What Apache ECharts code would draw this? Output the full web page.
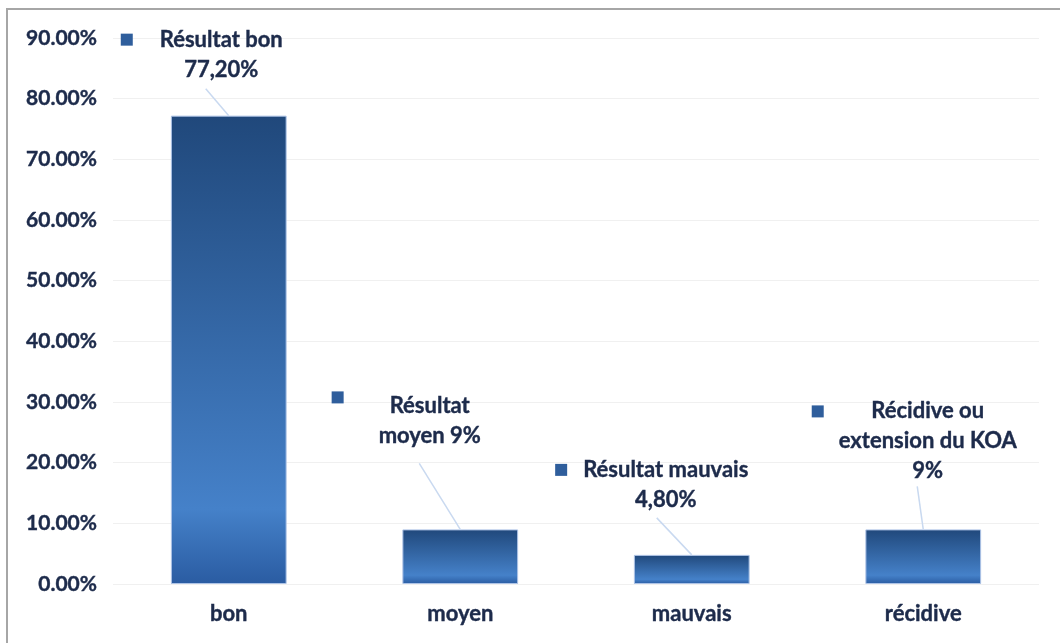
<!DOCTYPE html>
<html>
<head>
<meta charset="utf-8">
<script src="https://cdn.jsdelivr.net/npm/echarts@6/dist/echarts.min.js"></script>
<style>
  html, body { margin: 0; padding: 0; background: #fff; }
  #frame { position: absolute; left: 6px; top: 8px; right: 0; bottom: 0;
    border-left: 2px solid #a6a6a6; border-top: 2px solid #a6a6a6; }
  #chart { position: absolute; left: 0; top: 0; width: 1060px; height: 643px; }
</style>
</head>
<body>
<div id="frame"></div>
<div id="chart"></div>
<script>
const categories = ['bon', 'moyen', 'mauvais', 'récidive']
const values = [77.2, 9, 4.8, 9]
const labelTexts = [
  ['Résultat bon', '77,20%'],
  ['Résultat', 'moyen 9%'],
  ['Résultat mauvais', '4,80%'],
  ['Récidive ou', 'extension du KOA', '9%']
]
const yTicks = { min: 0, max: 90, step: 10 }

// label placement tweaks (offset from default 'top' position), gap after the key square,
// key square alignment, and leader line end offset from the bar top
const labelShift = [[-27, -26], [-54, -73], [-40, -35], [-9, -38]]
const keyGap = [27, 35, 16, 15]
const keyStyle = ['sq', 'sqTop', 'sq', 'sq']
const leaderEnd = [[-23, -27], [-41, -66], [-35, -37], [-6, -43]]

const textColor = '#1d2b4b'
const font = 'Lato'
const boldText = { textBorderColor: textColor, textBorderWidth: 0.4 }

const chart = echarts.init(document.getElementById('chart'), null, { renderer: 'canvas' })

const rich = {
  sq: { width: 12, height: 12, backgroundColor: '#2f5e9c', align: 'left', verticalAlign: 'middle' },
  sqTop: { width: 12, height: 12, backgroundColor: '#2f5e9c', align: 'left', verticalAlign: 'top' },
  t: Object.assign({ color: textColor, fontFamily: font, fontWeight: 'bold', fontSize: 22, lineHeight: 30, align: 'center' }, boldText)
}
keyGap.forEach(g => {
  rich['g' + g] = { width: g, height: 12, align: 'left' }
  rich['p' + g] = { width: g + 12, height: 12, align: 'left' }
})

chart.setOption({
  animation: false,
  grid: { left: 113, right: 21, top: 38, bottom: 59 },
  xAxis: {
    type: 'category',
    data: categories,
    axisLine: { show: false },
    axisTick: { show: false },
    axisLabel: Object.assign({ margin: 19, color: textColor, fontFamily: font, fontWeight: 'bold', fontSize: 22 }, boldText)
  },
  yAxis: {
    type: 'value',
    min: yTicks.min,
    max: yTicks.max,
    interval: yTicks.step,
    axisLine: { show: false },
    axisTick: { show: false },
    splitLine: { lineStyle: { color: '#f0f0f0', width: 1 } },
    axisLabel: Object.assign({
      margin: 16,
      color: textColor,
      fontFamily: font,
      fontWeight: 'bold',
      fontSize: 21,
      formatter: v => v.toFixed(2) + '%'
    }, boldText)
  },
  series: [
    {
      type: 'bar',
      barWidth: '50%',
      data: values,
      z: 2,
      itemStyle: {
        borderColor: '#adc3e6',
        borderWidth: 1,
        color: new echarts.graphic.LinearGradient(0, 0, 0, 1, [
          { offset: 0, color: '#20487b' },
          { offset: 0.84, color: '#4581c9' },
          { offset: 1, color: '#2a5ca2' }
        ])
      },
      label: {
        show: true,
        position: 'top',
        distance: 5,
        rich: rich,
        formatter: p => {
          const i = p.dataIndex
          const g = keyGap[i]
          return labelTexts[i].map((l, k) => (k === 0 ? '{' + keyStyle[i] + '|}{g' + g + '|}' : '{p' + g + '|}') + '{t|' + l + '}').join('\n')
        }
      },
      labelLayout: p => ({ dx: labelShift[p.dataIndex][0], dy: labelShift[p.dataIndex][1] })
    },
    {
      // leader lines from each bar top to its label
      type: 'custom',
      silent: true,
      z: 3,
      data: values.map((v, i) => [i, v]),
      renderItem: (params, api) => {
        const p = api.coord([api.value(0), api.value(1)])
        const o = leaderEnd[params.dataIndex]
        return {
          type: 'line',
          shape: { x1: p[0], y1: p[1], x2: p[0] + o[0], y2: p[1] + o[1] },
          style: { stroke: '#c9d9f0', lineWidth: 1.5 }
        }
      }
    }
  ]
})
</script>
</body>
</html>
